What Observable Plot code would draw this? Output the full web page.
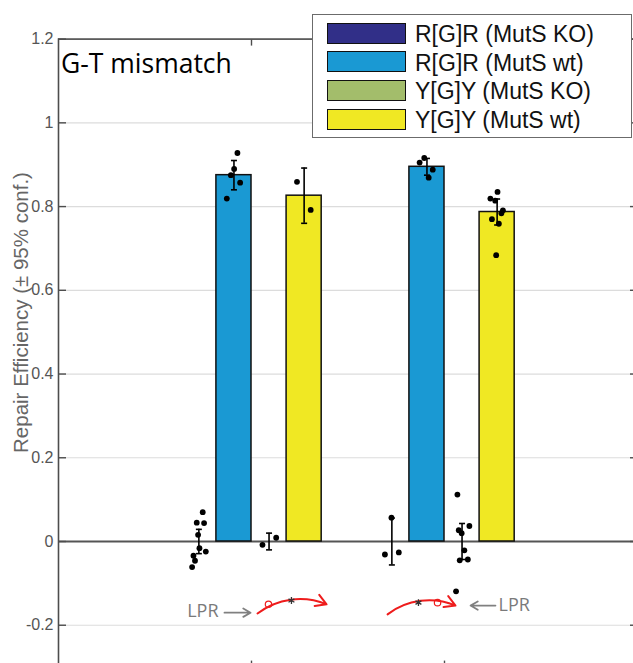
<!DOCTYPE html>
<html>
<head>
<meta charset="utf-8">
<script src="https://cdn.jsdelivr.net/npm/d3@7"></script>
<script src="https://cdn.jsdelivr.net/npm/@observablehq/plot@0.6"></script>
<style>
  html, body { margin: 0; padding: 0; background: #fff; }
  #wrap { position: relative; width: 633px; height: 663px; overflow: hidden; background: #fff; }
  #legend { position: absolute; left: 312px; top: 14px; width: 318px; height: 122px; border: 1.5px solid #6b6b6b; background: #fff; font-family: "Liberation Sans", Arial, sans-serif; }
  .sw { position: absolute; left: 14px; width: 77px; height: 19px; border: 1.5px solid #111; }
  .lt { position: absolute; left: 102px; font-size: 23px; color: #111; line-height: 1; white-space: nowrap; }
</style>
</head>
<body>
<div id="wrap"><div id="legend"></div></div>
<script>
// ---- data ----
const groups = [1, 2];
const series = ["R[G]R (MutS KO)", "R[G]R (MutS wt)", "Y[G]Y (MutS KO)", "Y[G]Y (MutS wt)"];
const colors = ["#312f88", "#1a99d3", "#a3bd6b", "#f0e823"];
const meanG1 = [0.0, 0.875, 0.0, 0.826];
const meanG2 = [0.0, 0.895, 0.0, 0.787];
const ciG1 = [0.029, 0.035, 0.020, 0.066];
const ciG2 = [0.056, 0.020, 0.043, 0.031];
// individual replicates: [value, horizontal jitter (x units)]
const ptsG1 = [
  [[0.070, 0.020], [0.045, -0.011], [0.044, 0.027], [0.016, -0.004], [-0.016, 0.003], [-0.024, 0.036], [-0.034, -0.028], [-0.046, -0.020], [-0.061, -0.035]],
  [[0.928, 0.018], [0.890, 0.001], [0.875, -0.016], [0.857, 0.032], [0.819, -0.037]],
  [[-0.008, -0.034], [0.009, 0.037]],
  [[0.859, -0.037], [0.792, 0.034]]
];
const ptsG2 = [
  [[-0.031, -0.036], [-0.026, 0.036], [0.057, -0.002]],
  [[0.916, -0.014], [0.905, -0.038], [0.888, 0.030], [0.869, 0.009]],
  [[0.112, -0.024], [0.037, 0.038], [0.027, -0.017], [0.020, -0.002], [-0.021, 0.012], [-0.045, -0.012], [-0.043, 0.030], [-0.119, -0.031]],
  [[0.835, 0.002], [0.819, -0.035], [0.814, -0.010], [0.791, 0.030], [0.784, 0.022], [0.770, -0.027], [0.759, 0.009], [0.684, -0.005]]
];
const yTicks = [-0.2, 0, 0.2, 0.4, 0.6, 0.8, 1, 1.2];
const xTicks = [1, 2];
const titleText = "G-T mismatch";
const yLabel = "Repair Efficiency (± 95% conf.)";
// annotations (data coordinates)
const lprText = [{x: 0.829, y: -0.166, t: "LPR", a: "end"}, {x: 2.280, y: -0.153, t: "LPR", a: "start"}];
const grayArrows = [{x1: 0.860, y1: -0.170, x2: 0.995, y2: -0.170}, {x1: 2.264, y1: -0.153, x2: 2.135, y2: -0.153}];
const redArcs = [{x1: 1.031, y1: -0.172, x2: 1.389, y2: -0.150}, {x1: 1.705, y1: -0.174, x2: 2.057, y2: -0.153}];
const redCircles = [{x: 1.088, y: -0.150}, {x: 1.964, y: -0.146}];
const asterisks = [{x: 1.207, y: -0.141}, {x: 1.865, y: -0.146}];

// ---- layout derived from MATLAB grouped-bar rule ----
const nS = series.length;
const groupWidth = Math.min(0.8, nS / (nS + 1.5));
const barStep = groupWidth / nS;
const off = s => (s - (nS - 1) / 2) * barStep;

const means = [meanG1, meanG2];
const cis = [ciG1, ciG2];
const pts = [ptsG1, ptsG2];

const bars = [], errs = [], dots = [];
groups.forEach((g, gi) => {
  series.forEach((s, si) => {
    const xc = g + off(si);
    bars.push({xc, v: means[gi][si], s});
    errs.push({xc, lo: means[gi][si] - cis[gi][si], hi: means[gi][si] + cis[gi][si]});
    pts[gi][si].forEach(([v, j]) => dots.push({x: xc + j, v}));
  });
});
const caps = errs.flatMap(e => [{x: e.xc, y: e.lo}, {x: e.xc, y: e.hi}]);
const capSymbol = {draw(ctx, size) { const r = Math.sqrt(size / Math.PI); ctx.moveTo(-r, 0); ctx.lineTo(r, 0); }};

const fmt = d => String(+d.toFixed(1));
const axisColor = "#4d4d4d";

const chart = Plot.plot({
  width: 633,
  height: 663,
  marginLeft: 58,
  marginRight: -4,
  marginTop: 38.6,
  marginBottom: -3.6,
  style: {background: "white", fontFamily: "'Liberation Sans', Arial, sans-serif", overflow: "hidden"},
  x: {domain: [0, 3], axis: null},
  y: {domain: [-0.3, 1.2], axis: null},
  color: {domain: series, range: colors},
  marks: [
    Plot.gridY(yTicks, {stroke: "#dcdcdc", strokeOpacity: 1, strokeWidth: 1.2}),
    Plot.ruleY([0], {stroke: "#555", strokeWidth: 1.8}),
    Plot.rectY(bars, {x1: d => d.xc - barStep / 2, x2: d => d.xc + barStep / 2, y1: 0, y2: "v", fill: "s", stroke: "#111", strokeWidth: 1.5}),
    Plot.ruleX(errs, {x: "xc", y1: "lo", y2: "hi", stroke: "#000", strokeWidth: 1.6}),
    Plot.dot(caps, {x: "x", y: "y", r: 3, symbol: capSymbol, stroke: "#000", strokeWidth: 1.6, fill: "none"}),
    Plot.dot(dots, {x: "x", y: "v", r: 2.9, fill: "#000", stroke: "none"}),
    // annotations
    Plot.text(lprText, {x: "x", y: "y", text: "t", textAnchor: "end", filter: d => d.a === "end", fontSize: 18, fill: "#7a7a7a", fontFamily: "'Open Sans', sans-serif"}),
    Plot.text(lprText, {x: "x", y: "y", text: "t", textAnchor: "start", filter: d => d.a === "start", fontSize: 18, fill: "#7a7a7a", fontFamily: "'Open Sans', sans-serif"}),
    Plot.arrow(grayArrows, {x1: "x1", y1: "y1", x2: "x2", y2: "y2", stroke: "#808080", strokeWidth: 1.8, headLength: 7}),
    Plot.arrow(redArcs, {x1: "x1", y1: "y1", x2: "x2", y2: "y2", bend: 30, stroke: "#ee1c1c", strokeWidth: 2, headLength: 9}),
    Plot.dot(redCircles, {x: "x", y: "y", r: 3.2, stroke: "#ee1c1c", strokeWidth: 1.2, fill: "none"}),
    Plot.dot(asterisks, {x: "x", y: "y", r: 3.2, symbol: "asterisk", stroke: "#333", strokeWidth: 1.3}),
    // frame and axes
    Plot.frame({stroke: axisColor, strokeWidth: 1.6}),
    Plot.axisY(yTicks, {anchor: "left", tickSize: 0, tickPadding: 5, tickFormat: fmt, fontSize: 16, fill: "#555", label: null}),
    Plot.axisY(yTicks, {anchor: "left", tickSize: 8, dx: 8, text: null, stroke: axisColor, strokeWidth: 1.4, label: null}),
    Plot.axisY(yTicks, {anchor: "right", tickSize: 8, dx: -8, text: null, stroke: axisColor, strokeWidth: 1.4, label: null}),
    Plot.axisX(xTicks, {anchor: "top", tickSize: 6, dy: 6, text: null, stroke: axisColor, strokeWidth: 1.4, label: null}),
    Plot.axisX(xTicks, {anchor: "bottom", tickSize: 6, dy: -6, text: null, stroke: axisColor, strokeWidth: 1.4, label: null}),
    Plot.text([titleText], {frameAnchor: "top-left", text: d => d, dx: 2.5, dy: 15.4, lineAnchor: "top", textAnchor: "start", fontSize: 26.5, fill: "#000", fontFamily: "'Open Sans', sans-serif"}),
    Plot.text([yLabel], {frameAnchor: "left", text: d => d, rotate: -90, textAnchor: "middle", dx: -37, dy: -40.6, fontSize: 20.5, fill: "#666"})
  ]
});
document.getElementById("wrap").prepend(chart);
chart.style.position = "absolute";
chart.style.left = "0px";
chart.style.top = "0px";

// legend overlay built from series + colors
const legend = document.getElementById("legend");
series.forEach((s, i) => {
  const top = 7.5 + i * 28.7;
  const sw = document.createElement("div");
  sw.className = "sw";
  sw.style.top = top + "px";
  sw.style.background = colors[i];
  legend.appendChild(sw);
  const t = document.createElement("div");
  t.className = "lt";
  t.style.top = (top + 0.5) + "px";
  t.textContent = s;
  legend.appendChild(t);
});
</script>
</body>
</html>
